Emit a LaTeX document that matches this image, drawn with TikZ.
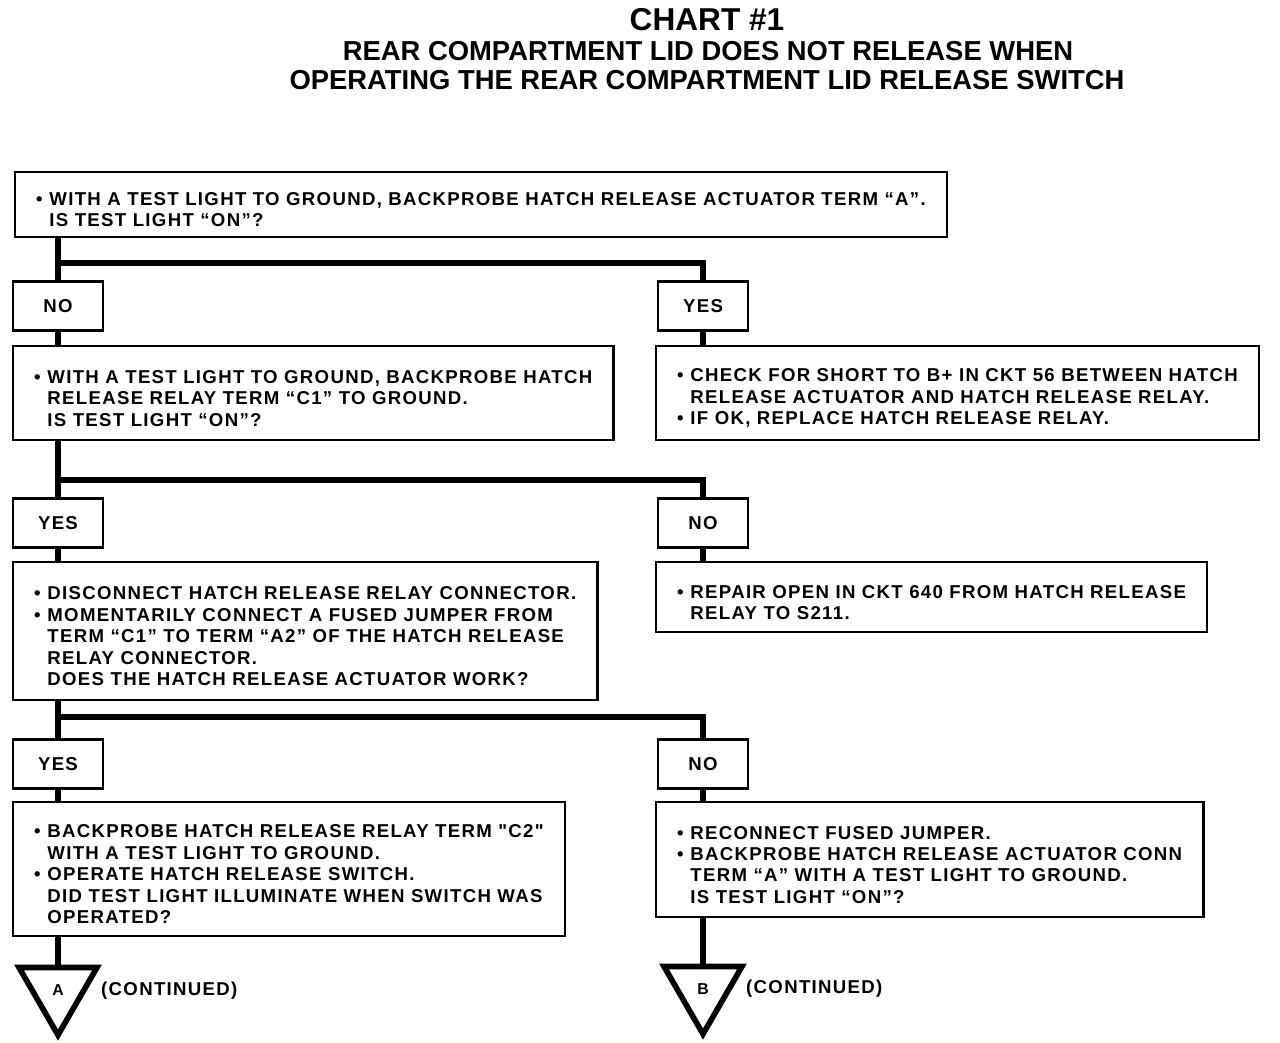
\documentclass[tikz,border=0pt]{standalone}
\usepackage{fontspec}
\setmainfont{Liberation Sans}
\newfontfamily\chartfont{Liberation Sans}[LetterSpace=7]
\usetikzlibrary{shapes.geometric}
\newcommand{\bul}{\makebox[7.6pt][l]{\textbullet}}
\newcommand{\ind}{\hspace*{7.6pt}}
\newcommand{\topstrut}{\rule{0pt}{13.5pt}}

\begin{document}
\begin{tikzpicture}[x=0.02cm, y=-0.02cm,
  every node/.style={font=\chartfont\bfseries\fontsize{10.6}{12.2}\selectfont},
  qbox/.style={draw, line width=1.5pt, anchor=north west, align=left, inner xsep=12pt, inner ysep=2pt, outer sep=0pt},
  ansbox/.style={draw, line width=1.5pt, minimum width=1.8cm, minimum height=0.98cm, inner sep=0pt, outer sep=0pt},
  link/.style={line width=3.6pt},
  contri/.style={draw, line width=3.2pt, regular polygon, regular polygon sides=3, shape border rotate=180,
    minimum size=1.8cm, inner sep=0pt, outer sep=0pt, font=\chartfont\bfseries\fontsize{9}{9}\selectfont}]
\useasboundingbox (0,0) rectangle (1280,1042);

% title
\node[anchor=base, font=\bfseries\fontsize{18}{18}\selectfont] (title) at (707,30) {CHART \#1};
\node[anchor=base, font=\bfseries\fontsize{15.6}{15.6}\selectfont] (subA) at (708,60) {REAR COMPARTMENT LID DOES NOT RELEASE WHEN};
\node[anchor=base, font=\bfseries\fontsize{15.6}{15.6}\selectfont] (subB) at (707,89) {OPERATING THE REAR COMPARTMENT LID RELEASE SWITCH};

% first question
\node[qbox, minimum height=1.3cm] (q1) at (15,172) {\topstrut\bul WITH A TEST LIGHT TO GROUND, BACKPROBE HATCH RELEASE ACTUATOR TERM “A”.\\
  \ind IS TEST LIGHT “ON”?};
\node[ansbox] (no1) at (58,306) {NO};
\node[ansbox] (yes1) at (703,306) {YES};

% second row
\node[qbox, minimum height=1.88cm] (q2) at (13,346) {\topstrut\bul WITH A TEST LIGHT TO GROUND, BACKPROBE HATCH\\
  \ind RELEASE RELAY TERM “C1” TO GROUND.\\
  \ind IS TEST LIGHT “ON”?};
\node[qbox, minimum height=1.88cm] (fix1) at (656,346) {\topstrut\bul CHECK FOR SHORT TO B+ IN CKT 56 BETWEEN HATCH\\
  \ind RELEASE ACTUATOR AND HATCH RELEASE RELAY.\\
  \bul IF OK, REPLACE HATCH RELEASE RELAY.};
\node[ansbox] (yes2) at (58,523) {YES};
\node[ansbox] (no2) at (703,523) {NO};

% third row
\node[qbox, minimum height=2.76cm] (q3) at (13,562) {\topstrut\bul DISCONNECT HATCH RELEASE RELAY CONNECTOR.\\
  \bul MOMENTARILY CONNECT A FUSED JUMPER FROM\\
  \ind TERM “C1” TO TERM “A2” OF THE HATCH RELEASE\\
  \ind RELAY CONNECTOR.\\
  \ind DOES THE HATCH RELEASE ACTUATOR WORK?};
\node[qbox, minimum height=1.4cm] (fix2) at (656,562) {\topstrut\bul REPAIR OPEN IN CKT 640 FROM HATCH RELEASE\\
  \ind RELAY TO S211.};
\node[ansbox] (yes3) at (58,764) {YES};
\node[ansbox] (no3) at (703,764) {NO};

% fourth row
\node[qbox, minimum height=2.68cm] (q4) at (13,802) {\topstrut\bul BACKPROBE HATCH RELEASE RELAY TERM "C2"\\
  \ind WITH A TEST LIGHT TO GROUND.\\
  \bul OPERATE HATCH RELEASE SWITCH.\\
  \ind DID TEST LIGHT ILLUMINATE WHEN SWITCH WAS\\
  \ind OPERATED?};
\node[qbox, minimum height=2.3cm] (q5) at (656,802) {\topstrut\bul RECONNECT FUSED JUMPER.\\
  \bul BACKPROBE HATCH RELEASE ACTUATOR CONN\\
  \ind TERM “A” WITH A TEST LIGHT TO GROUND.\\
  \ind IS TEST LIGHT “ON”?};

% continuation marks
\node[contri] (triA) at (58,990) {A};
\node[anchor=west] (contA) at (95,991) {(CONTINUED)};
\node[contri] (triB) at (703,989) {B};
\node[anchor=west] (contB) at (740,989) {(CONTINUED)};

% junctions
\coordinate (j1) at (58,263);
\coordinate (j2) at (58,480);
\coordinate (j3) at (58,717);

% connectors
\draw[link] (q1.south -| no1.north) -- (no1.north);
\draw[link] (j1) -| (yes1.north);
\draw[link] (no1.south) -- (no1.south |- q2.north);
\draw[link] (yes1.south) -- (yes1.south |- fix1.north);
\draw[link] (q2.south -| yes2.north) -- (yes2.north);
\draw[link] (j2) -| (no2.north);
\draw[link] (yes2.south) -- (yes2.south |- q3.north);
\draw[link] (no2.south) -- (no2.south |- fix2.north);
\draw[link] (q3.south -| yes3.north) -- (yes3.north);
\draw[link] (j3) -| (no3.north);
\draw[link] (yes3.south) -- (yes3.south |- q4.north);
\draw[link] (no3.south) -- (no3.south |- q5.north);
\draw[link] (q4.south -| triA.north) -- (triA.north);
\draw[link] (q5.south -| triB.north) -- (triB.north);
\end{tikzpicture}
\end{document}
